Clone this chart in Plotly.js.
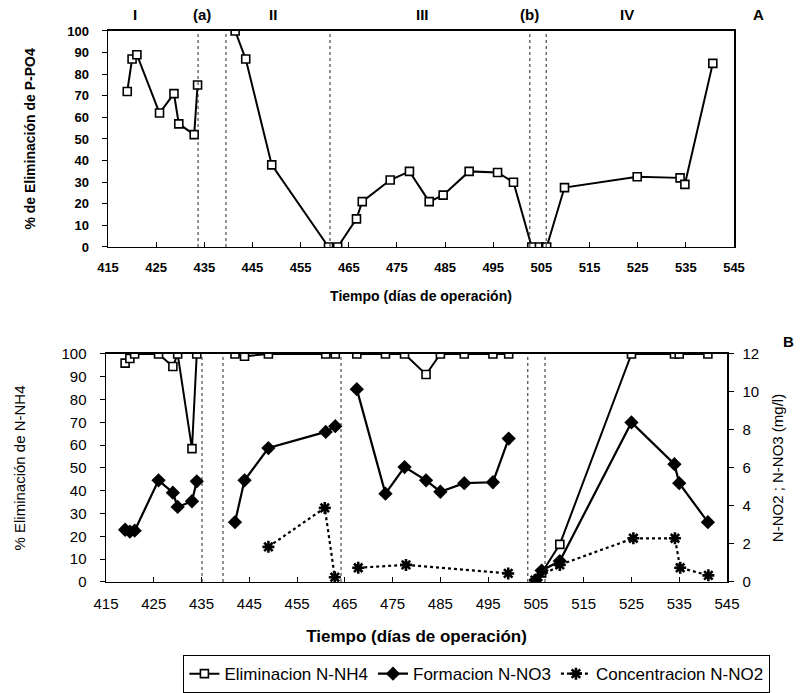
<!DOCTYPE html>
<html><head><meta charset="utf-8">
<script src="https://cdn.plot.ly/plotly-3.0.1.min.js"></script>
<style>html,body{margin:0;padding:0;background:#fff}#chart{width:800px;height:693px}</style>
</head><body><div id="chart"></div>
<script>
// ---- Panel A: P-PO4 removal (%) ----
const phosDays = [419, 420, 421, 425.7, 428.7, 429.7, 432.9, 433.6, null, 441.4, 443.6, 449, 460.8, 462.7, 466.6, 467.8, 473.6, 477.6, 481.7, 484.6, 490, 495.9, 499.2, 503, 504.6, 506.1, 509.8, 524.9, 533.8, 534.8, 540.6];
const phosRemoval = [72, 87, 89, 62, 71, 57, 52, 75, null, 100, 87, 38, 0, 0, 13, 21, 31, 35, 21, 24, 35, 34.5, 30, 0, 0, 0, 27.5, 32.5, 32, 29, 85];

// ---- Panel B: nitrogen ----
const nDays = [419, 420, 421, 426, 429, 430, 433, 434, null, 442, 444, 449, 461, 463, null, 467.5, 473.5, 477.5, 482, 485, 490, 496, 499.3, null, 505, 506.2, 510, 525, 534, 535, 541];
const nh4Removal = [96, 98, 100, 100, 94.5, 100, 58.5, 100, null, 100, 99, 100, 100, 100, null, 100, 100, 100, 91, 100, 100, 100, 100, null, 0, 4, 16.5, 100, 100, 100, 100];
const no3Formation = [2.75, 2.65, 2.7, 5.35, 4.7, 3.95, 4.25, 5.3, null, 3.15, 5.35, 7.05, 7.9, 8.2, null, 10.15, 4.65, 6.05, 5.35, 4.75, 5.2, 5.25, 7.55, null, 0.1, 0.6, 1.1, 8.4, 6.2, 5.2, 3.15];
const no2Days = [449, 460.8, 462.9, null, 467.8, 477.8, 499.2, null, 504.8, 510, 525.4, 534.1, 535.2, 541.1];
const no2Conc = [1.85, 3.9, 0.25, null, 0.75, 0.9, 0.45, null, 0.1, 0.9, 2.3, 2.3, 0.75, 0.35];

// phase boundaries (days) and labels
const phaseLinesA = [433.7, 439.5, 461.1, 502.6, 506.0];
const phaseLinesB = [435.1, 439.5, 464.2, 503.3, 506.9];
const phaseLabels = ['I', '(a)', 'II', 'III', '(b)', 'IV'];
const phaseLabelDays = [420.6, 434.5, 449.3, 480.4, 502.6, 522.8];
const xTicks = [415, 425, 435, 445, 455, 465, 475, 485, 495, 505, 515, 525, 535, 545];
const seriesNames = ['Eliminacion N-NH4', 'Formacion N-NO3', 'Concentracion N-NO2'];

const FONT = 'Liberation Sans, Arial, Helvetica, sans-serif';
const black = '#000';

const squareMarker = {symbol: 'square', size: 8, color: '#fff', line: {color: black, width: 1.6}};

const traces = [
  {x: phosDays, y: phosRemoval, xaxis: 'x', yaxis: 'y', mode: 'lines+markers', showlegend: false,
   line: {color: black, width: 2}, marker: squareMarker, connectgaps: false, name: 'P-PO4'},
  {x: nDays, y: nh4Removal, xaxis: 'x2', yaxis: 'y2', mode: 'lines+markers', name: seriesNames[0],
   line: {color: black, width: 2}, marker: squareMarker, connectgaps: false},
  {x: nDays, y: no3Formation, xaxis: 'x2', yaxis: 'y3', mode: 'lines+markers', name: seriesNames[1],
   line: {color: black, width: 2.2}, marker: {symbol: 'diamond', size: 11, color: black}, connectgaps: false},
  {x: no2Days, y: no2Conc, xaxis: 'x2', yaxis: 'y3', mode: 'lines+markers', name: seriesNames[2],
   line: {color: black, width: 2.2, dash: 'dot'}, marker: {symbol: 'asterisk-open', size: 10, line: {color: black, width: 2.6}}, connectgaps: false}
];

const shapes = [];
phaseLinesA.forEach(d => shapes.push({type: 'line', xref: 'x', yref: 'y domain', x0: d, x1: d, y0: 0, y1: 1,
  line: {color: '#222', width: 1, dash: 'dot'}}));
phaseLinesB.forEach(d => shapes.push({type: 'line', xref: 'x2', yref: 'y2 domain', x0: d, x1: d, y0: 0, y1: 1,
  line: {color: '#222', width: 1, dash: 'dot'}}));

const labelFont = {family: FONT, size: 15, weight: 'bold', color: black};
const annotations = phaseLabels.map((t, i) => ({text: t, x: phaseLabelDays[i], xref: 'x', y: 0.979, yref: 'paper',
  xanchor: 'center', yanchor: 'middle', showarrow: false, font: labelFont}));
annotations.push({text: 'A', x: 0.9475, xref: 'paper', y: 0.979, yref: 'paper', xanchor: 'center', yanchor: 'middle',
  showarrow: false, font: labelFont});
annotations.push({text: 'B', x: 0.986, xref: 'paper', y: 0.507, yref: 'paper', xanchor: 'center', yanchor: 'middle',
  showarrow: false, font: labelFont});

const axisBase = {showline: true, linecolor: black, linewidth: 1.5, showgrid: false, zeroline: false,
  ticks: 'outside', ticklen: 5, tickcolor: black, fixedrange: true};

const layout = {
  width: 800, height: 693,
  margin: {l: 0, r: 0, t: 0, b: 0},
  paper_bgcolor: '#fff', plot_bgcolor: '#fff',
  font: {family: FONT, color: black},
  showlegend: true,
  xaxis: Object.assign({}, axisBase, {domain: [0.135, 0.9175], range: [415, 545], anchor: 'y',
    tickvals: xTicks, ticks: 'inside', mirror: true, ticklabelstandoff: 8,
    tickfont: {size: 13, weight: 'bold'},
    title: {text: 'Tiempo (días de operación)', font: {size: 14, weight: 'bold'}, standoff: 17}}),
  yaxis: Object.assign({}, axisBase, {domain: [0.6436, 0.9553], range: [0, 100], anchor: 'x',
    dtick: 10, mirror: true, ticklabelstandoff: 10,
    tickfont: {size: 13, weight: 'bold'},
    title: {text: '% de Eliminación de P-PO4', font: {size: 14, weight: 'bold'}, standoff: 28}}),
  xaxis2: Object.assign({}, axisBase, {domain: [0.1325, 0.90875], range: [415, 545], anchor: 'y2',
    tickvals: xTicks, ticks: 'inside', mirror: true, ticklabelstandoff: 8,
    tickfont: {size: 15},
    title: {text: 'Tiempo (días de operación)', font: {size: 17, weight: 'bold'}, standoff: 18}}),
  yaxis2: Object.assign({}, axisBase, {domain: [0.1602, 0.4892], range: [0, 100], anchor: 'x2',
    dtick: 10, ticklabelstandoff: 10,
    tickfont: {size: 15},
    title: {text: '% Eliminación de N-NH4', font: {size: 15}, standoff: 32}}),
  yaxis3: Object.assign({}, axisBase, {domain: [0.1602, 0.4892], range: [0, 12], anchor: 'x2',
    overlaying: 'y2', side: 'right', dtick: 2, ticklabelstandoff: 6,
    tickfont: {size: 15},
    title: {text: 'N-NO2 ; N-NO3 (mg/l)', font: {size: 15}, standoff: 14}}),
  legend: {orientation: 'h', x: 0.229, xanchor: 'left', y: 0.055, yanchor: 'top',
    bordercolor: black, borderwidth: 1.2, bgcolor: '#fff',
    font: {size: 17, family: FONT}, itemwidth: 30, tracegroupgap: 0},
  shapes: shapes,
  annotations: annotations
};

Plotly.newPlot('chart', traces, layout, {displayModeBar: false, staticPlot: true});
</script>
</body></html>
